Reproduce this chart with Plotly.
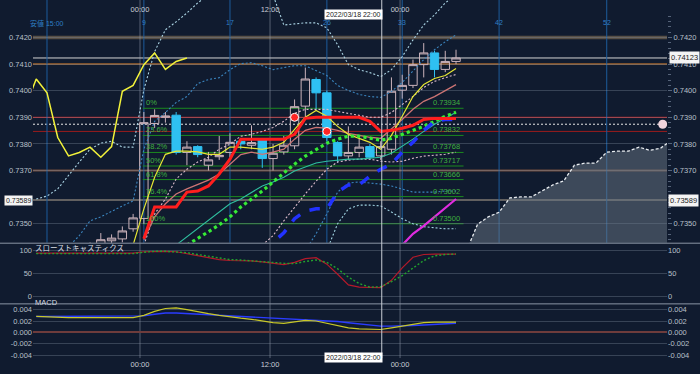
import plotly.graph_objects as go

# ---------------- data ----------------
bars = list(range(0, 39))
opens = [0.7336, 0.7337, 0.7339, 0.7338, 0.7341, 0.7342, 0.73436, 0.73443, 0.73481, 0.7352,
         0.73877, 0.7390, 0.73908, 0.73768, 0.7379, 0.7372, 0.73752, 0.73768, 0.7381, 0.73795,
         0.73817, 0.73745, 0.7377, 0.73793, 0.73942, 0.74042, 0.73992, 0.73805, 0.73755, 0.73768,
         0.7379, 0.73755, 0.7378, 0.74002, 0.7402, 0.74098, 0.74142, 0.7408, 0.7411]
highs = [0.7339, 0.7340, 0.7341, 0.7342, 0.7343, 0.73465, 0.7346, 0.7349, 0.73537, 0.7392,
         0.7393, 0.7392, 0.7392, 0.7381, 0.73795, 0.7377, 0.7383, 0.7384, 0.7382, 0.7387,
         0.7382, 0.7380, 0.7383, 0.73967, 0.74087, 0.7405, 0.7400, 0.7381, 0.73866, 0.7382,
         0.7380, 0.7381, 0.7405, 0.7406, 0.74117, 0.74179, 0.7415, 0.7415, 0.74154]
lows = [0.7331, 0.7334, 0.7336, 0.7336, 0.7338, 0.7340, 0.7342, 0.7343, 0.7347, 0.7350,
        0.7386, 0.7388, 0.7376, 0.7372, 0.7375, 0.7370, 0.7374, 0.7375, 0.7378, 0.7378,
        0.7371, 0.7370, 0.7376, 0.7378, 0.7390, 0.7393, 0.7381, 0.7373, 0.7374, 0.7375,
        0.7374, 0.7374, 0.7376, 0.7397, 0.7401, 0.7405, 0.7405, 0.7407, 0.7410]
closes = [0.7337, 0.7339, 0.7338, 0.7341, 0.7342, 0.7344, 0.73446, 0.73473, 0.73522, 0.7388,
          0.73907, 0.73905, 0.73768, 0.73788, 0.7376, 0.7374, 0.73757, 0.73806, 0.7380, 0.73805,
          0.73745, 0.73765, 0.73795, 0.7394, 0.74044, 0.73992, 0.73824, 0.73755, 0.73768, 0.73788,
          0.7375, 0.7379, 0.73998, 0.7402, 0.74098, 0.74142, 0.7408, 0.7411, 0.74123]
chikou_shift = 25

# indicator lines: (first bar index, values)
bb_up3_start = -1
bb_up3 = [0.73593, 0.73604, 0.73631, 0.73683, 0.73732, 0.7378, 0.73803, 0.7381, 0.73788, 0.73788,
          0.74004, 0.74147, 0.74229, 0.74259, 0.74292, 0.7433, 0.7436, 0.7438, 0.7439, 0.7438,
          0.7437, 0.7436, 0.7436, 0.74247, 0.74251, 0.74255, 0.74255, 0.74236, 0.74173, 0.74098,
          0.74079, 0.74068, 0.74053, 0.74079, 0.74128, 0.74191, 0.74247, 0.74285, 0.7433, 0.7436]
bb_up2_start = -1
bb_up2 = [0.7335, 0.7336, 0.7338, 0.73414, 0.73455, 0.73511, 0.73526, 0.73548, 0.73567, 0.73586,
          0.7378, 0.73885, 0.73918, 0.73956, 0.73978, 0.74027, 0.74042, 0.74049, 0.74079, 0.74102,
          0.74105, 0.74094, 0.74079, 0.74087, 0.74094, 0.74094, 0.74075, 0.74057, 0.7402, 0.74001,
          0.73986, 0.73978, 0.73975, 0.73997, 0.74031, 0.74072, 0.74117, 0.74154, 0.74184, 0.7421]
bb_dn2_start = 24
bb_dn2 = [0.7340, 0.73462, 0.73537, 0.73619, 0.73653, 0.73657, 0.73653, 0.73649, 0.73642, 0.73631,
          0.73619, 0.73619, 0.73619, 0.73623, 0.73623]
bb_dn3_start = 26
bb_dn3 = [0.7340, 0.7350, 0.73556, 0.7357, 0.7357, 0.73567, 0.73544, 0.73519, 0.735, 0.73489,
          0.73485, 0.73481, 0.73481]
pink_up_start = 9
pink_up = [0.7342, 0.73537, 0.73593, 0.73668, 0.73705, 0.73732, 0.7375, 0.7378, 0.73799, 0.73829,
           0.73836, 0.73847, 0.73862, 0.73885, 0.73915, 0.7393, 0.7393, 0.7393, 0.73922, 0.73915,
           0.73907, 0.739, 0.739, 0.73918, 0.73948, 0.73978, 0.74012, 0.74035, 0.74049, 0.74061]
pink_dn_start = 20
pink_dn = [0.7342, 0.73455, 0.73511, 0.73563, 0.73612, 0.7366, 0.73705, 0.73732, 0.73739, 0.73743,
           0.73743, 0.73735, 0.73732, 0.73735, 0.73746, 0.73754, 0.73757, 0.73761, 0.73769]
salmon_start = 9
salmon = [0.7344, 0.73526, 0.73575, 0.73612, 0.73631, 0.73649, 0.73664, 0.73687, 0.73724, 0.7376,
          0.73769, 0.73761, 0.73769, 0.7378, 0.73818, 0.73851, 0.73862, 0.73859, 0.73851, 0.7384,
          0.73832, 0.73825, 0.73821, 0.73855, 0.73892, 0.7393, 0.7396, 0.73978, 0.74001, 0.74023]
yellow_start = 8
yellow = [0.7342, 0.73556, 0.73675, 0.73761, 0.73773, 0.73773, 0.7377, 0.73761, 0.73761, 0.73788,
          0.73788, 0.73784, 0.7378, 0.73788, 0.73806, 0.73855, 0.739, 0.73926, 0.73904, 0.73866,
          0.73836, 0.73821, 0.73806, 0.7378, 0.73832, 0.73904, 0.73978, 0.74023, 0.74046, 0.74057,
          0.74083]
red_start = 9
red = [0.73444, 0.73563, 0.73563, 0.73563, 0.73619, 0.73623, 0.73642, 0.73687, 0.73743, 0.73818,
       0.73818, 0.73818, 0.73818, 0.73818, 0.73836, 0.73896, 0.739, 0.739, 0.739, 0.739,
       0.739, 0.73885, 0.73847, 0.73851, 0.73859, 0.7387, 0.73892, 0.73896, 0.73896, 0.73896]
blue_start = 20
blue = [0.7340, 0.7343, 0.73466, 0.73519, 0.73548, 0.73556, 0.73556, 0.73619, 0.73646, 0.73646,
        0.73679, 0.73705, 0.73724, 0.73769, 0.73806, 0.73851, 0.73885, 0.73892, 0.73892]
lime_start = 13
lime = [0.7342, 0.73444, 0.7347, 0.73496, 0.73526, 0.73563, 0.73593, 0.73623, 0.73657, 0.73691,
        0.73724, 0.73754, 0.7378, 0.73803, 0.73818, 0.73829, 0.73829, 0.73821, 0.73814, 0.73821,
        0.73836, 0.73851, 0.73866, 0.73885, 0.73904, 0.73919]
teal_start = 12
teal = [0.7342, 0.73451, 0.73481, 0.73511, 0.73541, 0.73575, 0.73593, 0.73619, 0.73642, 0.73657,
        0.73675, 0.73698, 0.73713, 0.73728, 0.73735, 0.73739, 0.73743, 0.73743, 0.73746, 0.7375,
        0.73765, 0.73791, 0.73818, 0.73847, 0.73874, 0.73896, 0.73919]
magenta_start = 33
magenta = [0.7342, 0.73462, 0.73492, 0.73526, 0.7356, 0.73593]
area_start = 39
area = [0.7340, 0.73498, 0.73526, 0.73543, 0.73597, 0.73601, 0.73601, 0.73623, 0.73646, 0.73661,
        0.7372, 0.73728, 0.73728, 0.73769, 0.73773, 0.73773, 0.73788, 0.73776, 0.73784, 0.73814]

signal_bars = [23, 26]
signal_prices = [0.7390, 0.73847]
alert_bar = [57.2]
alert_price = [0.73874]

fib_pcts = ["0%", "23.6%", "38.2%", "50%", "61.8%", "76.4%", "100%"]
fib_levels = [0.73934, 0.73832, 0.73768, 0.73717, 0.73666, 0.73602, 0.73500]
fib_range = [8.9, 38.7]

level_lines = [0.7420, 0.74123, 0.7410, 0.7390, 0.73874, 0.73847, 0.7370, 0.73589]
level_colors = ["#574f46", "#d4d4d4", "#a0642e", "#d02020", "#e8e8e8", "#9c1c1c", "#6e4c3e", "#626060"]
level_widths = [3.5, 1, 1.5, 1, 1, 1, 2, 2]
level_dash = ["solid", "solid", "solid", "solid", "2px,2px", "solid", "solid", "solid"]

stoch_start = -1
stoch_k = [94, 94, 94, 94, 94, 94, 94, 94, 94, 94,
           97, 98, 98, 97, 93, 89, 84, 80, 78, 78, 77, 75, 72, 69, 74, 82, 84, 70, 48, 25,
           20, 19, 19, 35, 62, 85, 91, 92, 92, 92]
stoch_d = [93, 93, 93, 93, 93, 93, 93, 93, 93, 93,
           96, 98, 98, 97, 95, 91, 87, 83, 80, 79, 77, 76, 74, 72, 71, 76, 79, 74, 60, 42,
           28, 20, 21, 32, 45, 62, 78, 88, 91, 92]
macd_start = -1
macd_blue = [0.0028] * 10 + [0.0029, 0.0032, 0.0034, 0.0034, 0.0033, 0.0032, 0.0031, 0.0030, 0.0030, 0.0029,
                             0.0028, 0.0027, 0.0026, 0.0025, 0.0024, 0.0023, 0.0022, 0.0021, 0.0019, 0.0017,
                             0.0015, 0.0013, 0.0011, 0.0011, 0.0011, 0.0012, 0.0013, 0.0014, 0.0015, 0.0016]
macd_yellow = [0.0028, 0.0027] + [0.0026] * 8 + [0.0030, 0.0037, 0.0042, 0.0043, 0.0040, 0.0036, 0.0033, 0.0030,
                                                 0.0027, 0.0025, 0.0023, 0.0020, 0.0017, 0.0016, 0.0018, 0.0021,
                                                 0.0020, 0.0016, 0.0011, 0.0008, 0.0006, 0.0005, 0.0005, 0.0008,
                                                 0.0011, 0.0015, 0.0017, 0.0018, 0.0018, 0.0018]

price_ticks = [0.7350, 0.7370, 0.7380, 0.7390, 0.7400, 0.7410, 0.7420]
price_labels = ["0.7350", "0.7370", "0.7380", "0.7390", "0.7400", "0.7410", "0.7420"]
stoch_ticks = [0, 50, 100]
macd_ticks = [-0.004, -0.002, 0.0, 0.002, 0.004]
macd_labels = ["-0.004", "-0.002", "0.000", "0.002", "0.004"]
time_ticks = [8.64, 20.72, 32.8]
time_labels = ["00:00", "12:00", "00:00"]
cursor_bar = 31.1
cursor_label = "2022/03/18 22:00"
count_bars = [0, 9, 17, 26, 33, 42, 52]
count_labels = ["安値 15:00", "9", "17", "26", "33", "42", "52"]

# ---------------- figure ----------------
BG = "#101b2f"
H = 374.0
def py(px):
    return 1 - px / H

MAIN_RANGE = [0.734288, 0.743409]
STOCH_RANGE = [-15.1, 114.5]
MACD_RANGE = [-0.004525, 0.004928]
XR = [-1.3, 57.6]
DOTS = "2px,2px"

def xs(start, vals):
    return list(range(start, start + len(vals)))

fig = go.Figure()

fig.add_trace(go.Candlestick(
    x=bars, open=opens, high=highs, low=lows, close=closes,
    increasing=dict(line=dict(color="#cbb3bb", width=1), fillcolor="rgba(0,0,0,0)"),
    decreasing=dict(line=dict(color="#2fc0f2", width=1), fillcolor="#2fc0f2"),
    whiskerwidth=0, hoverinfo="skip", showlegend=False))

def line(start, vals, color, width, dash="solid", yaxis="y", xaxis="x"):
    fig.add_trace(go.Scatter(x=xs(start, vals), y=vals, mode="lines",
                             line=dict(color=color, width=width, dash=dash),
                             xaxis=xaxis, yaxis=yaxis, hoverinfo="skip", showlegend=False))

line(bb_up3_start, bb_up3, "#a9d2e2", 1.1, DOTS)
line(bb_up2_start, bb_up2, "#3b86c0", 1.1, DOTS)
line(bb_dn2_start, bb_dn2, "#3b86c0", 1.1, DOTS)
line(bb_dn3_start, bb_dn3, "#a0d4e2", 1.1, DOTS)
line(pink_up_start, pink_up, "#dcbccb", 1.1, DOTS)
line(pink_dn_start, pink_dn, "#dcbccb", 1.1, DOTS)
line(teal_start, teal, "#2fbf9f", 1.1)
line(salmon_start, salmon, "#cc7474", 1.3)
line(yellow_start, yellow, "#e6e634", 1.2)
line(lime_start, lime, "#36ea36", 3.2, "dot")
line(blue_start, blue, "#2232ff", 3.5, "dash")
line(red_start, red, "#ff1e1e", 3)

# lagging span: closes shifted back
fig.add_trace(go.Scatter(x=[b - chikou_shift for b in bars], y=closes, mode="lines",
                         line=dict(color="#f2f23a", width=1.5), hoverinfo="skip", showlegend=False))

fig.add_trace(go.Scatter(x=signal_bars, y=signal_prices, mode="markers",
                         marker=dict(color="#ff2424", size=8, line=dict(color="#ffffff", width=1)),
                         hoverinfo="skip", showlegend=False))

# right-axis (overlay) traces
fig.add_trace(go.Scatter(x=xs(area_start, area), y=area, mode="lines", fill="tozeroy",
                         fillcolor="rgba(106,120,134,0.5)",
                         line=dict(color="#e8ecf0", width=1.3, dash="3px,2px"),
                         yaxis="y4", hoverinfo="skip", showlegend=False))
line(magenta_start, magenta, "#e02ce0", 2.2, yaxis="y4")
fig.add_trace(go.Scatter(x=alert_bar, y=alert_price, mode="markers",
                         marker=dict(color="#f0d4dc", size=9), yaxis="y4",
                         hoverinfo="skip", showlegend=False))

# stochastic
line(stoch_start, stoch_k, "#b41a2a", 1.2, xaxis="x2", yaxis="y2")
line(stoch_start, stoch_d, "#22a22e", 1.4, DOTS, xaxis="x2", yaxis="y5")
# MACD
line(macd_start, macd_blue, "#2a3cff", 1.4, xaxis="x3", yaxis="y3")
line(macd_start, macd_yellow, "#c8c828", 1.2, xaxis="x3", yaxis="y6")

shapes = []
# pane separators
for p in (244.5, 305.5):
    shapes.append(dict(type="line", xref="paper", yref="paper", x0=-0.06, x1=1.06,
                       y0=py(p), y1=py(p), line=dict(color="#8a95a5", width=1)))
# horizontal level lines
for lv, c, w, d in zip(level_lines, level_colors, level_widths, level_dash):
    shapes.append(dict(type="line", xref="paper", yref="y", x0=0, x1=1, y0=lv, y1=lv,
                       line=dict(color=c, width=w, dash=d), layer="below"))
# fibonacci lines
for lv in fib_levels:
    shapes.append(dict(type="line", xref="x", yref="y", x0=fib_range[0], x1=fib_range[1],
                       y0=lv, y1=lv, line=dict(color="#1b8a1f", width=1), layer="below"))
# bar-count lines (main pane)
for b in count_bars:
    shapes.append(dict(type="line", xref="x", yref="paper", x0=b, x1=b, y0=py(244), y1=1,
                       line=dict(color="#1d5c9c", width=1), layer="below"))
# time grid lines
for t in time_ticks:
    shapes.append(dict(type="line", xref="x", yref="paper", x0=t, x1=t, y0=py(360), y1=1,
                       line=dict(color="rgba(170,180,195,0.45)", width=1), layer="below"))
shapes.append(dict(type="line", xref="x", yref="paper", x0=cursor_bar, x1=cursor_bar,
                   y0=py(360), y1=1, line=dict(color="#c8ced6", width=1)))

ann = []
for pct, lv in zip(fib_pcts, fib_levels):
    ann.append(dict(x=fib_range[0] + 0.1, y=lv, xref="x", yref="y", text=pct, showarrow=False,
                    xanchor="left", yanchor="bottom", font=dict(color="#3fb03f", size=7.5), yshift=-1))
    ann.append(dict(x=fib_range[1] - 0.1, y=lv, xref="x", yref="y", text=f"{lv:.5f}", showarrow=False,
                    xanchor="right", yanchor="bottom", font=dict(color="#3fb03f", size=7.5), yshift=-1))
for b, t in zip(count_bars, count_labels):
    ann.append(dict(x=b, y=py(17), xref="x", yref="paper", text=t, showarrow=False,
                    font=dict(color="#2f7fc6", size=7)))
for yy in (py(9), py(365)):
    ann.append(dict(x=cursor_bar, y=yy, xref="x", yref="paper", text=cursor_label, showarrow=False,
                    xanchor="right", xshift=1,
                    bgcolor="#ffffff", font=dict(color="#222222", size=7), borderpad=1))
# price boxes
ann.append(dict(x=1, y=closes[-1], xref="paper", yref="y", text=f"{closes[-1]:.5f}", showarrow=False,
                xanchor="left", xshift=2, bgcolor="#f4f4f4", font=dict(color="#222222", size=7.5), borderpad=1))
ann.append(dict(x=1, y=level_lines[-1], xref="paper", yref="y", text=f"{level_lines[-1]:.5f}",
                showarrow=False, xanchor="left", xshift=1, bgcolor="#f4f4f4",
                font=dict(color="#222222", size=7.5), borderpad=1))
ann.append(dict(x=0, y=level_lines[-1], xref="paper", yref="y", text=f"{level_lines[-1]:.5f}",
                showarrow=False, xanchor="right", xshift=0, bgcolor="#f4f4f4",
                font=dict(color="#222222", size=7), borderpad=1))
ann.append(dict(x=0, y=py(249), xref="paper", yref="paper", text="スローストキャスティクス", showarrow=False,
                xanchor="left", font=dict(color="#d8dde4", size=7.5,
                                          family="Noto Sans CJK JP")))
ann.append(dict(x=0, y=py(311), xref="paper", yref="paper", text="MACD", showarrow=False,
                xanchor="left", font=dict(color="#d8dde4", size=7.5)))

GRID = "rgba(140,152,170,0.32)"
TICKF = dict(color="#b8c0ca", size=7.5)
common_x = dict(range=XR, showgrid=False, zeroline=False, showline=False, fixedrange=True)

fig.update_layout(
    width=700, height=374, margin=dict(l=33, r=33, t=0, b=0),
    paper_bgcolor=BG, plot_bgcolor=BG, showlegend=False,
    boxgap=0.22, boxgroupgap=0,
    font=dict(family="Liberation Sans, Arial, Noto Sans CJK JP", size=7.5, color="#b8c0ca"),
    xaxis=dict(**common_x, anchor="y", side="top", tickvals=time_ticks, ticktext=time_labels,
               ticklabelposition="inside", ticklabelstandoff=4, ticks="", tickfont=dict(color="#c8ced6", size=7.5),
               rangeslider=dict(visible=False)),
    xaxis2=dict(**common_x, anchor="y2", matches="x", showticklabels=False),
    xaxis3=dict(**common_x, anchor="y3", matches="x", tickvals=time_ticks, ticktext=time_labels,
                ticks="", tickfont=dict(color="#c8ced6", size=7.5)),
    yaxis=dict(domain=[py(244), 1], range=MAIN_RANGE, tickvals=price_ticks, ticktext=price_labels,
               showgrid=True, gridcolor=GRID, zeroline=False, ticks="", tickfont=TICKF, fixedrange=True),
    yaxis4=dict(overlaying="y", anchor="x", side="right", range=MAIN_RANGE, tickvals=price_ticks,
                ticktext=price_labels, showgrid=False, zeroline=False, ticks="outside", ticklen=4,
                tickcolor="#56647a", tickfont=TICKF, fixedrange=True,
                minor=dict(dtick=0.0002, ticks="outside", ticklen=3, tickcolor="#56647a", showgrid=False)),
    yaxis2=dict(domain=[py(305), py(245)], range=STOCH_RANGE, tickvals=stoch_ticks,
                showgrid=True, gridcolor=GRID, zeroline=False, ticks="", tickfont=TICKF, fixedrange=True),
    yaxis5=dict(overlaying="y2", anchor="x2", side="right", range=STOCH_RANGE, tickvals=stoch_ticks,
                showgrid=False, zeroline=False, ticks="", tickfont=TICKF, fixedrange=True),
    yaxis3=dict(domain=[py(360), py(306)], range=MACD_RANGE, tickvals=macd_ticks, ticktext=macd_labels,
                showgrid=True, gridcolor=GRID, zeroline=True, zerolinecolor="#6e3c3c", zerolinewidth=2,
                ticks="", tickfont=TICKF, fixedrange=True),
    yaxis6=dict(overlaying="y3", anchor="x3", side="right", range=MACD_RANGE, tickvals=macd_ticks,
                ticktext=macd_labels, showgrid=False, zeroline=False, ticks="", tickfont=TICKF, fixedrange=True),
    shapes=shapes, annotations=ann,
)

fig.write_html("out.html", config={"displayModeBar": False},
               post_script="document.body.style.margin='0';document.body.style.overflow='hidden';")
